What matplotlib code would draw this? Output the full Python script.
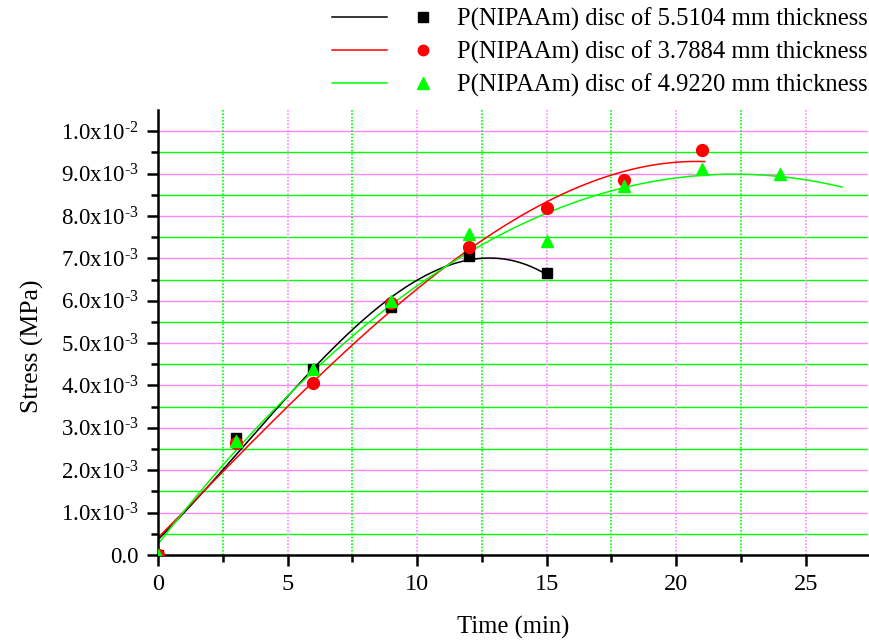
import numpy as np
import matplotlib
matplotlib.use("Agg")
import matplotlib.pyplot as plt
from matplotlib.ticker import MultipleLocator, FixedLocator
from matplotlib.legend_handler import HandlerTuple
from matplotlib.lines import Line2D

plt.rcParams['font.family'] = ['Liberation Serif', 'DejaVu Serif']
plt.rcParams['mathtext.fontset'] = 'custom'
plt.rcParams['mathtext.rm'] = 'Liberation Serif'

# Measured stress (MPa) vs time (min) for three disc thicknesses
t_black = [0, 3, 6, 9, 12, 15]
s_black = [0.0, 2.75e-3, 4.40e-3, 5.85e-3, 7.05e-3, 6.65e-3]

t_red = [0, 3, 6, 9, 12, 15, 18, 21]
s_red = [0.0, 2.65e-3, 4.05e-3, 5.95e-3, 7.26e-3, 8.18e-3, 8.85e-3, 9.55e-3]

t_green = [0, 3, 6, 9, 12, 15, 18, 21, 24]
s_green = [0.0, 2.70e-3, 4.40e-3, 6.00e-3, 7.58e-3, 7.40e-3, 8.70e-3, 9.10e-3, 9.00e-3]

# Fitted trend curves, sampled along each fit line
fit_t_black = [0, 2.5, 5, 7.5, 10, 11.27, 12.5, 15]
fit_s_black = [0.37e-3, 1.99e-3, 3.74e-3, 5.34e-3, 6.46e-3, 6.86e-3, 6.99e-3, 6.62e-3]

fit_t_red = [0, 2.5, 5, 7.5, 10, 11.27, 12.5, 15, 17.07, 17.5, 20, 21.1]
fit_s_red = [0.37e-3, 1.99e-3, 3.60e-3, 4.91e-3, 6.19e-3, 6.86e-3, 7.45e-3, 8.35e-3,
             8.88e-3, 9.02e-3, 9.26e-3, 9.26e-3]

fit_t_green = [0, 2.5, 5, 7.5, 10, 11.27, 12.5, 15, 17.07, 17.5, 20, 22.1, 22.5, 25, 26.4]
fit_s_green = [0.22e-3, 2.13e-3, 3.86e-3, 5.16e-3, 6.26e-3, 6.81e-3, 7.35e-3, 8.08e-3,
               8.51e-3, 8.63e-3, 8.90e-3, 9.00e-3, 8.98e-3, 8.85e-3, 8.67e-3]

labels = ["P(NIPAAm) disc of 5.5104 mm thickness",
          "P(NIPAAm) disc of 3.7884 mm thickness",
          "P(NIPAAm) disc of 4.9220 mm thickness"]
y_tick_labels = (["0.0"]
                 + [r"$\mathregular{%d.0x10^{\text{-}3}}$" % i for i in range(1, 10)]
                 + [r"$\mathregular{1.0x10^{\text{-}2}}$"])

FS_LEG = 17.7
fig = plt.figure(figsize=(8.7, 6.41), dpi=100)
ax = fig.add_axes([158/870, 1 - 555/641, 710/870, 445/641])
ax.set_xlim(0, 27.4)
ax.set_ylim(0, 0.0105)

GREEN = '#00ff00'
PINK = '#ff88ff'

# grid: pink on major ticks, green on minor ticks
for y in np.arange(0.001, 0.0105, 0.001):
    ax.axhline(y, color=PINK, lw=1.0, zorder=0.5)
for y in np.arange(0.0005, 0.0105, 0.001):
    ax.axhline(y, color=GREEN, lw=1.0, zorder=0.5)
for x in [5, 10, 15, 20, 25]:
    ax.axvline(x, color=PINK, lw=1.2, ls=(0, (1, 1)), zorder=0.5)
for x in [2.5, 7.5, 12.5, 17.5, 22.5]:
    ax.axvline(x, color=GREEN, lw=1.2, ls=(0, (1, 1)), zorder=0.5)

series = [
    (t_black, s_black, fit_t_black, fit_s_black, 'black', 's', 7.5, 6.5),
    (t_red, s_red, fit_t_red, fit_s_red, 'red', 'o', 8.5, 7.5),
    (t_green, s_green, fit_t_green, fit_s_green, GREEN, '^', 9.0, 8.0),
]
handles = []
for t, s, ft, fs, c, m, ms, lms in series:
    coef = np.polyfit(ft, fs, 3)
    xx = np.linspace(ft[0], ft[-1], 300)
    ax.plot(xx, np.polyval(coef, xx), color=c, lw=1.1, zorder=2)
    ax.plot(t, s, ls='none', marker=m, ms=ms, color=c, zorder=3)
    handles.append((Line2D([], [], color=c, lw=1.1),
                    Line2D([], [], ls='none', marker=m, ms=lms, color=c)))

ax.legend(handles, labels, handler_map={tuple: HandlerTuple(ndivide=None, pad=0.35)},
          loc='lower right', bbox_to_anchor=(1.0, 1.03), frameon=False,
          fontsize=FS_LEG, handlelength=4.82, handletextpad=0.26, labelspacing=0.38,
          borderaxespad=0.0, borderpad=0.0)

ax.xaxis.set_major_locator(MultipleLocator(5))
ax.xaxis.set_minor_locator(MultipleLocator(2.5))
ax.yaxis.set_major_locator(FixedLocator(np.arange(0, 0.0105, 0.001)))
ax.yaxis.set_minor_locator(FixedLocator(np.arange(0.0005, 0.0105, 0.001)))
ax.set_yticklabels(y_tick_labels)

ax.tick_params(which='major', direction='out', length=8, width=1.8)
ax.tick_params(axis='y', which='major', pad=6, labelsize=16.5)
ax.tick_params(axis='x', which='major', pad=6, labelsize=17.5)
ax.tick_params(which='minor', direction='out', length=5, width=1.8)
for sp in ['top', 'right']:
    ax.spines[sp].set_visible(False)
for sp in ['left', 'bottom']:
    ax.spines[sp].set_linewidth(1.8)

ax.set_xlabel("Time (min)", fontsize=17.7, va='top')
ax.xaxis.set_label_coords(0.5, (555 - 616) / 445)
ax.set_ylabel("Stress (MPa)", fontsize=18.5)
ax.yaxis.set_label_coords((44 - 158) / 710, (555 - 346) / 445)

fig.savefig("out.png", dpi=100)
